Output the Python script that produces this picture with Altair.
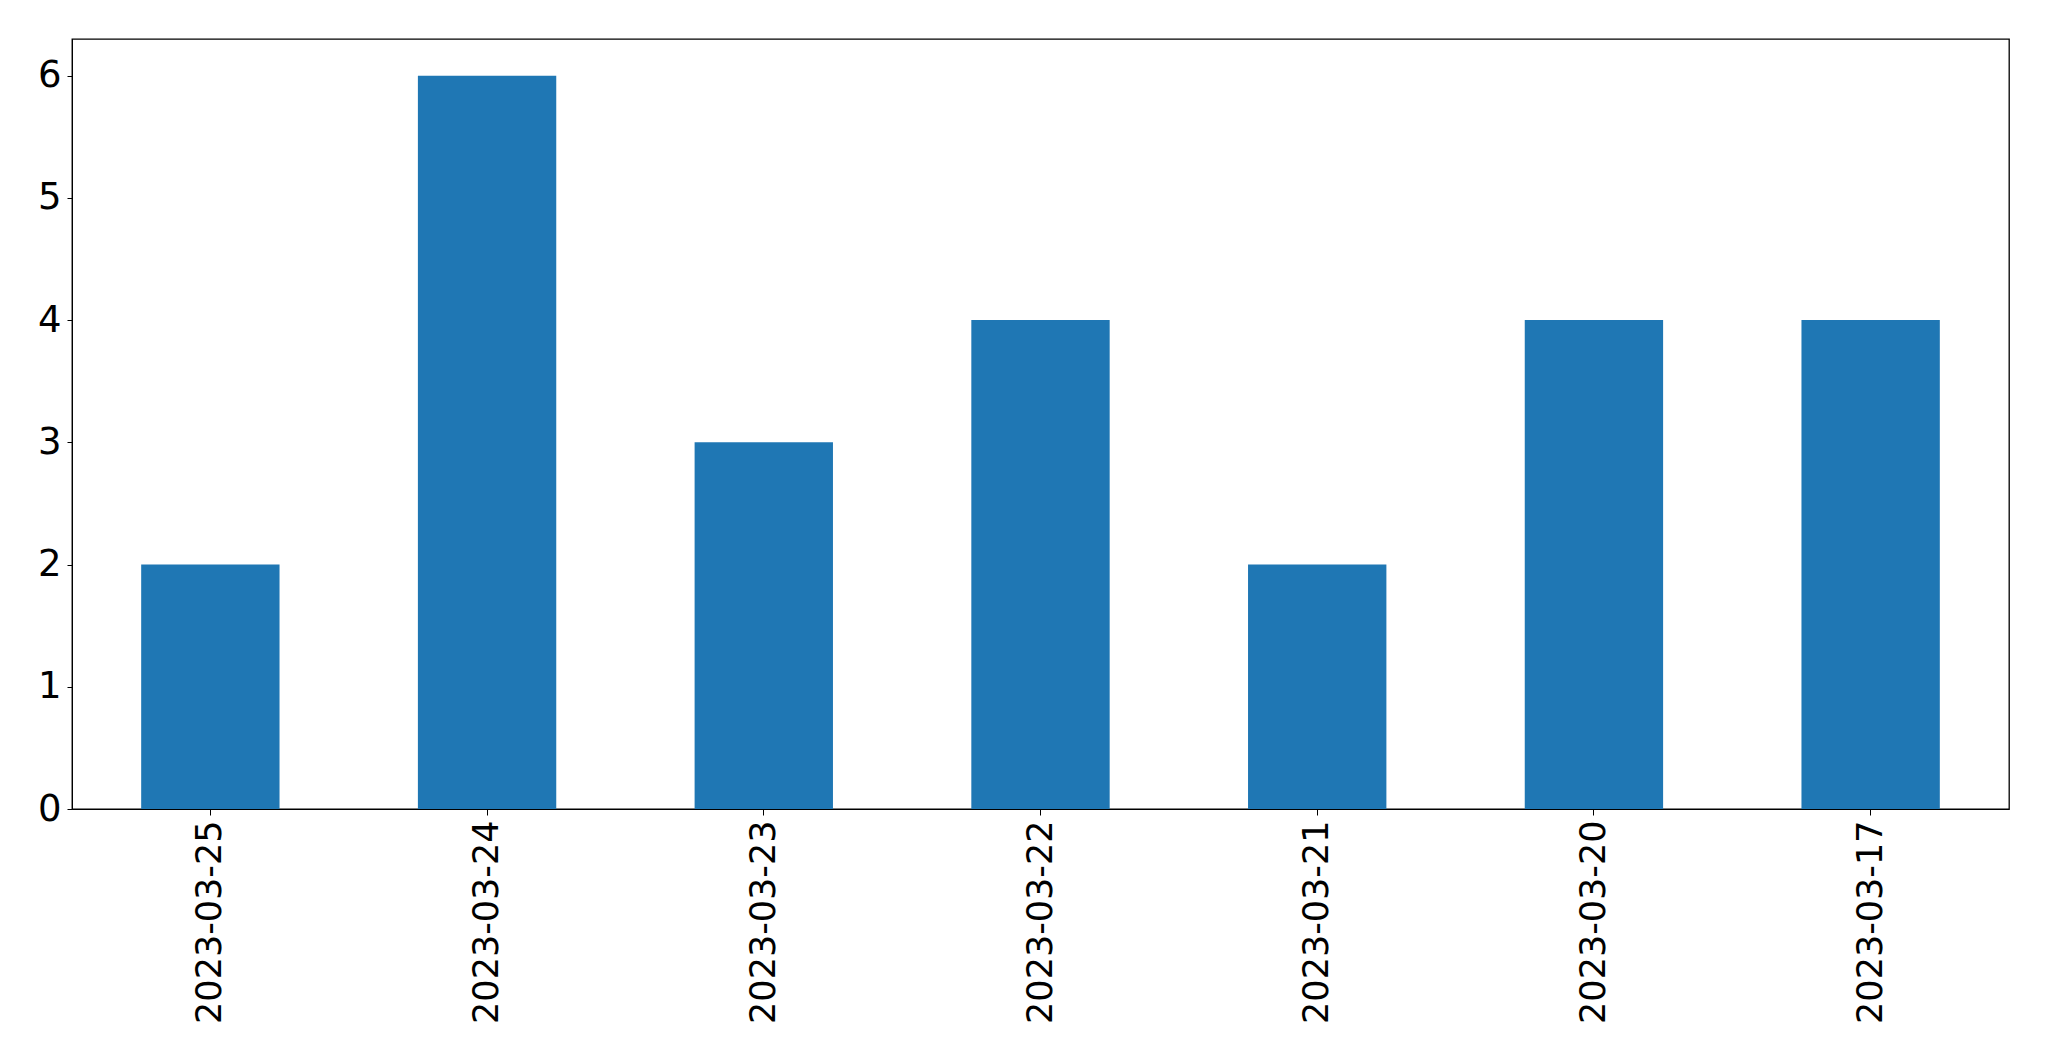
import altair as alt
import pandas as pd

dates = ["2023-03-25", "2023-03-24", "2023-03-23", "2023-03-22", "2023-03-21", "2023-03-20", "2023-03-17"]
counts = [2, 6, 3, 4, 2, 4, 4]

df = pd.DataFrame({"date": dates, "count": counts})

chart = alt.Chart(df).mark_bar(color="#1f77b4").encode(
    x=alt.X("date:N", sort=dates, title=None,
            scale=alt.Scale(paddingInner=0.5, paddingOuter=0.25),
            axis=alt.Axis(labelAngle=270, labelFontSize=35, labelFont="DejaVu Sans",
                          labelColor="black", tickColor="black", tickSize=6, tickWidth=1,
                          labelPadding=5, labelLimit=0, domainColor="black", domainWidth=1)),
    y=alt.Y("count:Q", title=None,
            scale=alt.Scale(domain=[0, 6.3], nice=False),
            axis=alt.Axis(values=[0, 1, 2, 3, 4, 5, 6], format="d", labelFontSize=37,
                          labelFont="DejaVu Sans", labelColor="black", tickColor="black",
                          tickSize=5, tickWidth=1, labelPadding=6, grid=False,
                          domainColor="black", domainWidth=1)),
).properties(
    width=1937, height=770,
    autosize=alt.AutoSizeParams(type="none"),
    padding={"left": 64, "top": 31, "right": 30, "bottom": 230},
).configure_view(stroke="black", strokeWidth=1.3)

chart.save("out.html", embed_options={"renderer": "svg", "actions": False})
